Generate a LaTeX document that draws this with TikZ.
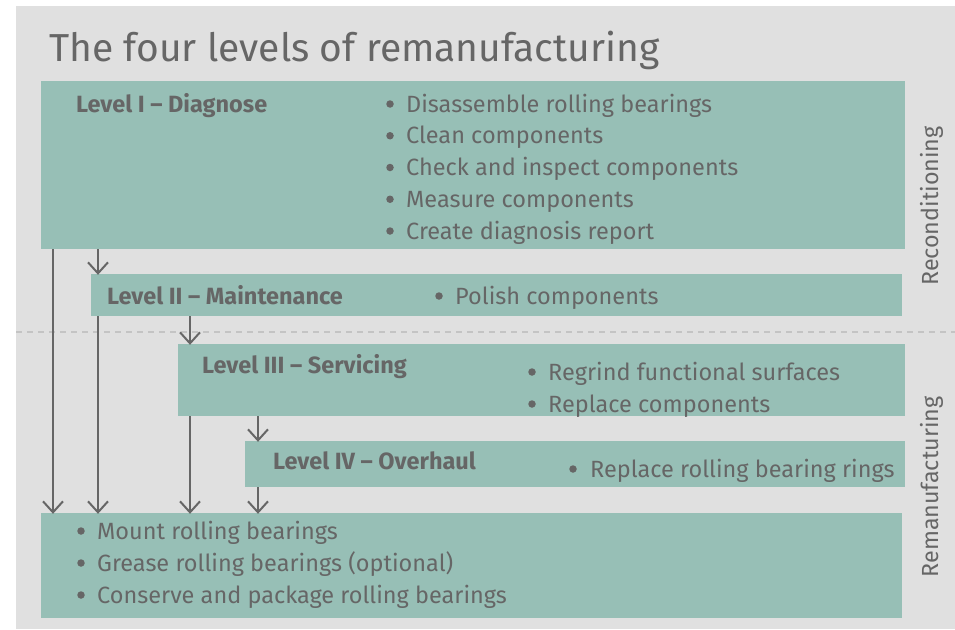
\documentclass[tikz,border=0pt]{standalone}
\usepackage{fontspec}
\setmainfont{Fira Sans}
\usetikzlibrary{arrows.meta}
\definecolor{bgcol}{HTML}{E0E0E0}
\definecolor{tealcol}{HTML}{97BFB6}
\definecolor{txtcol}{HTML}{666666}
\definecolor{dashcol}{HTML}{C4C4C4}
\tikzset{
  box/.style={fill=tealcol, draw=none, inner sep=0pt, anchor=center},
  lbl/.style={font=\fontsize{23.5}{26}\selectfont\bfseries, text=txtcol, anchor=base west, inner sep=0pt},
  itm/.style={font=\fontsize{23.5}{26}\selectfont, text=txtcol, anchor=base west, inner sep=0pt},
  bul/.style={circle, fill=txtcol, draw=none, inner sep=0pt, minimum size=7.5},
  side/.style={font=\fontsize{23.3}{26}\selectfont, text=txtcol, rotate=90, inner sep=0pt},
  arr/.style={draw=txtcol, line width=2pt, -{Straight Barb[length=11pt,width=20pt,line width=2pt]}},
  sepline/.style={draw=dashcol, line width=2pt, dash pattern=on 6pt off 5pt}
}
\begin{document}
\begin{tikzpicture}[x=1pt,y=-1pt]
\useasboundingbox (0,0) rectangle (955,629);
\fill[bgcol] (16,6) rectangle (955,629);
\coordinate (sepL) at (16,332);
\coordinate (sepR) at (955,332);
\draw[sepline] (sepL) -- (sepR);
\node[font=\fontsize{39}{46}\selectfont, text=txtcol, anchor=base west, inner sep=0pt] (title) at (49,61) {The four levels of remanufacturing};
% boxes
\node[box, minimum width=864, minimum height=168] (L1) at (473,165) {};
\node[box, minimum width=811, minimum height=42] (L2) at (496.5,295) {};
\node[box, minimum width=727, minimum height=72] (L3) at (541.5,380) {};
\node[box, minimum width=660, minimum height=46] (L4) at (575,464) {};
\node[box, minimum width=861, minimum height=105] (F) at (471.5,565.5) {};
% labels
\node[lbl] (t1) at (76,112) {Level I – Diagnose};
\node[lbl] (t2) at (107,304) {Level II – Maintenance};
\node[lbl] (t3) at (202,373) {Level III – Servicing};
\node[lbl] (t4) at (273,469.5) {Level IV – Overhaul};
% items level I
\foreach \y/\t [count=\i] in {112/Disassemble rolling bearings, 143.75/Clean components, 175.5/Check and inspect components, 207.25/Measure components, 239/Create diagnosis report}{
  \node[bul] (b1\i) at (390,\y-8) {};
  \node[itm] (i1\i) at (406,\y) {\t};
}
\node[bul] (b21) at (439,296) {};
\node[itm] (i21) at (455,304) {Polish components};
\node[bul] (b31) at (532,372) {};
\node[itm] (i31) at (548,380) {Regrind functional surfaces};
\node[bul] (b32) at (532,404) {};
\node[itm] (i32) at (548,412) {Replace components};
\node[bul] (b41) at (573,469) {};
\node[itm] (i41) at (590,477) {Replace rolling bearing rings};
\foreach \y/\t [count=\i] in {539/Mount rolling bearings, 571/Grease rolling bearings (optional), 603/Conserve and package rolling bearings}{
  \node[bul] (b5\i) at (81,\y-8) {};
  \node[itm] (i5\i) at (97,\y) {\t};
}
% side labels
\node[side] (rc) at (932,206) {Reconditioning};
\node[side] (rm) at (932,487) {Remanufacturing};
% arrows
\draw[arr] (L1.south -| 53,0) -- ([yshift=-1]F.north -| 53,0);
\draw[arr] (L1.south -| 98,0) -- ([yshift=-1]L2.north -| 98,0);
\draw[arr] (L2.south -| 98,0) -- ([yshift=-1]F.north -| 98,0);
\draw[arr] (L2.south -| 190,0) -- ([yshift=-1]L3.north -| 190,0);
\draw[arr] (L3.south -| 190,0) -- ([yshift=-1]F.north -| 190,0);
\draw[arr] (L3.south -| 258,0) -- ([yshift=-1]L4.north -| 258,0);
\draw[arr] (L4.south -| 258,0) -- ([yshift=-1]F.north -| 258,0);
\end{tikzpicture}
\end{document}
